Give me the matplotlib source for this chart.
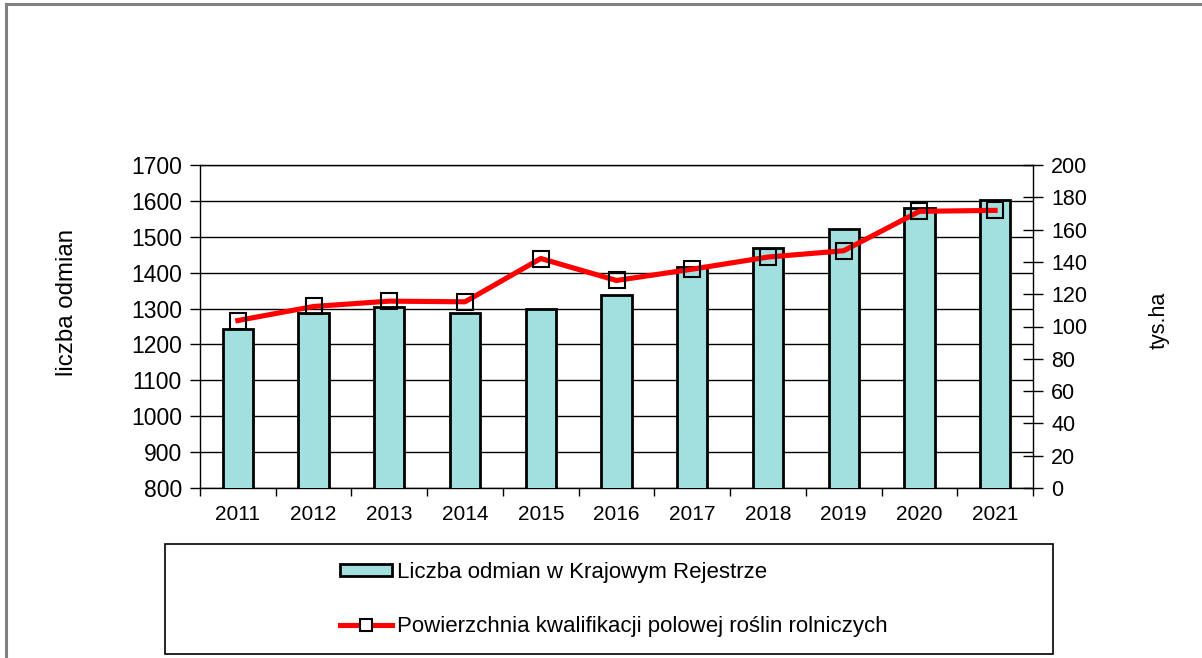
import matplotlib
matplotlib.use("Agg")
import matplotlib.pyplot as plt
from matplotlib.patches import Rectangle
from matplotlib.lines import Line2D
import numpy as np

plt.rcParams['font.family'] = ['Liberation Sans', 'DejaVu Sans']
plt.rcParams['font.size'] = 15

# data
years = ['2011', '2012', '2013', '2014', '2015', '2016', '2017', '2018', '2019', '2020', '2021']
varieties = [1242, 1289, 1305, 1289, 1300, 1338, 1415, 1470, 1523, 1581, 1603]
area_tys_ha = [103.7, 112.4, 115.7, 115.3, 142.1, 128.5, 135.5, 143.0, 146.9, 171.3, 171.9]

label_bars = 'Liczba odmian w Krajowym Rejestrze'
label_line = 'Powierzchnia kwalifikacji polowej roślin rolniczych'

W, H = 1202, 658
fig = plt.figure(figsize=(W / 100, H / 100), dpi=100)

# grey frame (top + left only, like the cropped original)
fig.add_artist(Line2D([6 / W, 6 / W], [0, 1 - 4 / H], color='#808080', lw=2.2))
fig.add_artist(Line2D([6 / W, 1], [1 - 4 / H, 1 - 4 / H], color='#808080', lw=2.2))

ax = fig.add_axes([200 / W, 1 - 488 / H, 833 / W, 323 / H])
x = np.arange(len(years))

ax.bar(x, varieties, width=0.40, color='#a2dfdf', edgecolor='black', linewidth=2, zorder=3)
ax.set_ylim(800, 1700)
ax.set_yticks(range(800, 1701, 100))
ax.set_xlim(-0.5, len(years) - 0.5)
ax.set_xticks(x)
ax.set_xticklabels(years)
ax.set_xticks(np.arange(-0.5, len(years)), minor=True)
ax.tick_params(axis='x', which='major', length=0, pad=12, labelsize=15)
ax.tick_params(axis='x', which='minor', length=6, direction='out', width=1)
ax.tick_params(axis='y', length=7, direction='out', width=1, pad=6, labelsize=16.5)
ax.yaxis.grid(True, color='black', lw=1)
ax.set_axisbelow(True)
for s in ['left', 'bottom', 'right', 'top']:
    ax.spines[s].set_color('black')
    ax.spines[s].set_linewidth(1)

ax2 = ax.twinx()
ax2.plot(x, area_tys_ha, color='#ff0000', lw=3.7, marker='s', markersize=11,
         markerfacecolor='none', markeredgecolor='black', markeredgewidth=1.5, zorder=4)
ax2.set_ylim(0, 200)
ax2.set_yticks(range(0, 201, 20))
ax2.tick_params(axis='y', length=14, direction='inout', width=1, pad=6, labelsize=15.5)
for s in ax2.spines.values():
    s.set_visible(False)

# axis titles
fig.text(67 / W, 1 - 302 / H, 'liczba odmian', rotation=90, ha='center', va='center', fontsize=17.3)
fig.text(1159 / W, 1 - 320 / H, 'tys.ha', rotation=90, ha='center', va='center', fontsize=15.5)

# legend box
fig.add_artist(Rectangle((165 / W, 1 - 654 / H), (1053 - 165) / W, (654 - 544) / H,
                         transform=fig.transFigure, fill=False, edgecolor='black', lw=1.2))
h_bar = Rectangle((0, 0), 1, 1, facecolor='#a2dfdf', edgecolor='black', lw=2)
h_line = Line2D([], [], color='#ff0000', lw=3.7, marker='s', markersize=9,
                markerfacecolor='white', markeredgecolor='black', markeredgewidth=1.5)
fig.legend([h_bar, h_line], [label_bars, label_line], loc='center left',
           bbox_to_anchor=(340 / W, 1 - 599.5 / H), frameon=False, fontsize=16,
           handlelength=2.35, handleheight=0.45, handletextpad=0.22, labelspacing=1.48,
           borderaxespad=0, borderpad=0)

fig.savefig('out.png', dpi=100)
